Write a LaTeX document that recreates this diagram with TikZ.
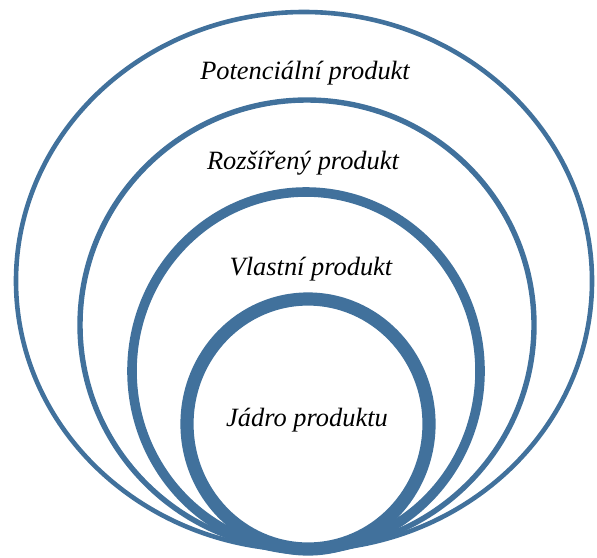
\documentclass[tikz,border=0pt]{standalone}
\usepackage{fontspec}
\setmainfont{Liberation Serif}
\usepackage{tikz}

\definecolor{ringblue}{RGB}{65,113,156}

\begin{document}
\begin{tikzpicture}[x=0.5pt, y=0.5pt]
		\tikzstyle{every node}+=[inner sep=0pt, font=\fontsize{13.2}{15}\selectfont\itshape]
		\useasboundingbox (0,0) rectangle (597,-557);
		\draw [ringblue, line width=2.3pt] (304,-281) ellipse (288 and 269);
		\draw [ringblue, line width=2.7pt] (307,-325) ellipse (227 and 225);
		\draw [ringblue, line width=4.8pt] (306,-371) ellipse (174 and 179);
		\draw [ringblue, line width=6.6pt] (308,-424) ellipse (121 and 125);
		\draw (305,-73) node (potencialni) {Potenciální produkt};
		\draw (303,-163) node (rozsireny) {Rozšířený produkt};
		\draw (311,-269) node (vlastni) {Vlastní produkt};
		\draw (307,-420) node (jadro) {Jádro produktu};
	\end{tikzpicture}
\end{document}
